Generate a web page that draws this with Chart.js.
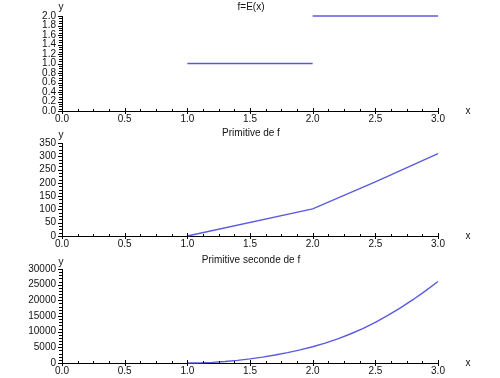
<!DOCTYPE html>
<html>
<head>
<meta charset="utf-8">
<script src="https://cdn.jsdelivr.net/npm/chart.js@4.4.1/dist/chart.umd.min.js"></script>
<style>
  html, body { margin: 0; padding: 0; background: #fff; }
  #wrap { position: relative; width: 500px; height: 378px; overflow: hidden; }
  canvas { position: absolute; left: 0; }
</style>
</head>
<body>
<div id="wrap">
  <canvas id="c1" width="500" height="128" style="top:0px"></canvas>
  <canvas id="c2" width="500" height="128" style="top:125px"></canvas>
  <canvas id="c3" width="500" height="128" style="top:250px"></canvas>
</div>
<script>
// f = E(x), two steps
const stepX1 = [1.0, 2.0];
const stepY1 = [1, 1];
const stepX2 = [2.0, 3.0];
const stepY2 = [2, 2];

// Primitive de f
const primX = [1.0, 2.0, 2.5, 3.0];
const primY = [0, 102, 204, 310];

// Primitive seconde de f
const prim2X = [1.0, 1.1, 1.2, 1.3, 1.4, 1.5, 1.6, 1.7, 1.8, 1.9, 2.0,
                2.1, 2.2, 2.3, 2.4, 2.5, 2.6, 2.7, 2.8, 2.9, 3.0];
const prim2Y = [0, 52, 208, 468, 832, 1300, 1870, 2550, 3330, 4210, 5200,
                6340, 7700, 9260, 11000, 13000, 15200, 17600, 20200, 23000, 26000];

const titles = ['f=E(x)', 'Primitive de f', 'Primitive seconde de f'];

const LINE = '#5a5ae0';
const FONT = '"Liberation Sans", Arial, sans-serif';

function pts(xs, ys) {
    return xs.map(function (x, i) { return { x: x, y: ys[i] }; });
}

// draws the small tick combs, the title and the x / y labels
const decoPlugin = {
    id: 'deco',
    afterDraw: function (chart, args, opts) {
        const ctx = chart.ctx;
        const xs = chart.scales.x;
        const ys = chart.scales.y;
        const ax = xs.top;
        const ay = ys.right;
        ctx.save();
        ctx.strokeStyle = '#000';
        ctx.lineWidth = 1;
        ctx.beginPath();
        // x ticks: major every 0.5, 4 subdivisions
        for (let i = 0; i <= 24; i++) {
            const px = Math.round(xs.getPixelForValue(i * 0.125)) + 0.5;
            if (i % 4 === 0) {
                ctx.moveTo(px, ax - 3);
                ctx.lineTo(px, ax + 3);
            } else {
                ctx.moveTo(px, ax - 2);
                ctx.lineTo(px, ax);
            }
        }
        // y ticks comb on the left of the axis
        const n = opts.yMinor;
        for (let i = 0; i <= n; i++) {
            const py = Math.round(ys.getPixelForValue(ys.min + (ys.max - ys.min) * i / n)) + 0.5;
            const major = i % opts.ySub === 0;
            ctx.moveTo(ay - (major ? 4 : 3), py);
            ctx.lineTo(ay, py);
        }
        ctx.stroke();

        ctx.fillStyle = '#111';
        ctx.font = '10px ' + FONT;
        ctx.textAlign = 'center';
        ctx.textBaseline = 'middle';
        ctx.fillText(opts.title, 251, opts.titleY);
        ctx.fillText('y', ay - 1, opts.yLabelY);
        ctx.fillText('x', 468, ax);
        ctx.restore();
    }
};

function makeChart(id, datasets, yCfg, deco, top, xH) {
    return new Chart(document.getElementById(id), {
        type: 'scatter',
        data: { datasets: datasets },
        plugins: [decoPlugin],
        options: {
            responsive: false,
            animation: false,
            layout: { padding: { top: top, right: 62, left: 0, bottom: 0 } },
            plugins: {
                legend: { display: false },
                tooltip: { enabled: false },
                deco: deco
            },
            scales: {
                x: {
                    type: 'linear',
                    min: 0,
                    max: 3,
                    grid: { display: false, drawTicks: false },
                    border: { color: '#000', width: 1 },
                    ticks: {
                        stepSize: 0.5,
                        padding: 2,
                        autoSkip: false,
                        maxRotation: 0,
                        color: '#111',
                        font: { family: FONT, size: 10 },
                        callback: function (v) { return v.toFixed(1); }
                    },
                    afterFit: function (s) { s.height = xH; }
                },
                y: {
                    type: 'linear',
                    min: yCfg.min,
                    max: yCfg.max,
                    grid: { display: false, drawTicks: false },
                    border: { color: '#000', width: 1 },
                    ticks: {
                        stepSize: yCfg.step,
                        padding: 6,
                        autoSkip: false,
                        color: '#111',
                        font: { family: FONT, size: 10 },
                        callback: yCfg.fmt
                    },
                    afterFit: function (s) { s.width = 62; }
                }
            }
        }
    });
}

function ds(data) {
    return {
        data: data,
        showLine: true,
        pointRadius: 0,
        borderColor: LINE,
        borderWidth: 1.4,
        fill: false,
        tension: 0,
        clip: false
    };
}

makeChart('c1',
    [ds(pts(stepX1, stepY1)), ds(pts(stepX2, stepY2))],
    { min: 0, max: 2, step: 0.2, fmt: function (v) { return v.toFixed(1); } },
    { title: titles[0], titleY: 7, yLabelY: 7, yMinor: 40, ySub: 4 },
    16, 17);

makeChart('c2',
    [ds(pts(primX, primY))],
    { min: 0, max: 350, step: 50, fmt: function (v) { return String(v); } },
    { title: titles[1], titleY: 8, yLabelY: 10, yMinor: 28, ySub: 4 },
    18, 17);

makeChart('c3',
    [ds(pts(prim2X, prim2Y))],
    { min: 0, max: 30000, step: 5000, fmt: function (v) { return String(v); } },
    { title: titles[2], titleY: 10, yLabelY: 12, yMinor: 30, ySub: 5 },
    19, 15);
</script>
</body>
</html>
